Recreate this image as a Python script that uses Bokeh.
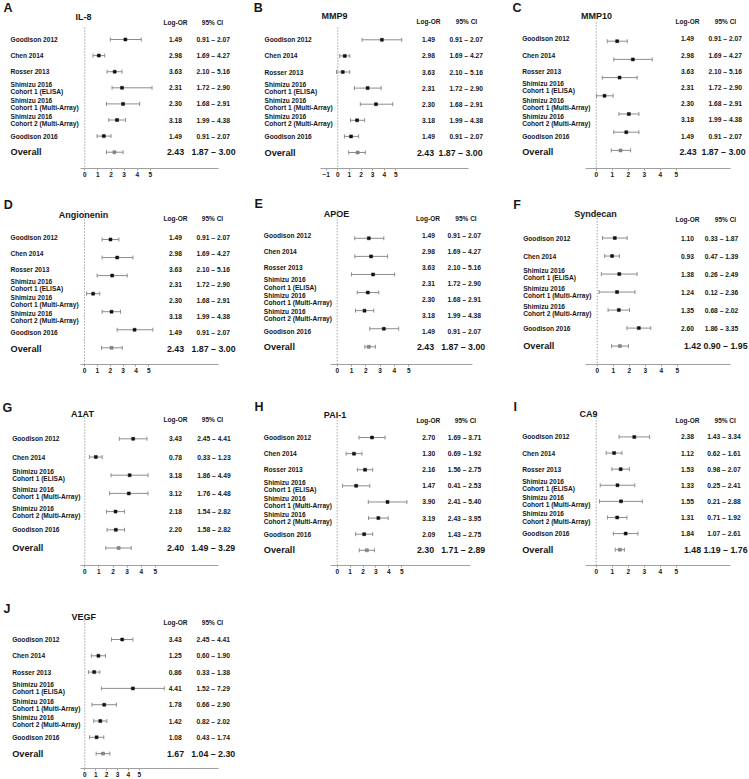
import math
from bokeh.plotting import figure
from bokeh.layouts import row, column
from bokeh.models import Range1d, LinearAxis, FixedTicker, ColumnDataSource
from bokeh.core.properties import value
from bokeh.embed import file_html
from bokeh.resources import INLINE

FONT = "Liberation Sans"
TXT = "#161616"
WHISK = "#8c8c8c"

# ---------------- data ----------------
STUDIES_7 = ["Goodison 2012", "Chen 2014", "Rosser 2013",
             "Shimizu 2016\nCohort 1 (ELISA)", "Shimizu 2016\nCohort 1 (Multi-Array)",
             "Shimizu 2016\nCohort 2 (Multi-Array)", "Goodison 2016"]
STUDIES_6 = ["Goodison 2012", "Chen 2014",
             "Shimizu 2016\nCohort 1 (ELISA)", "Shimizu 2016\nCohort 1 (Multi-Array)",
             "Shimizu 2016\nCohort 2 (Multi-Array)", "Goodison 2016"]

# table text shown in panels A-E
AE_LOGOR = ["1.49", "2.98", "3.63", "2.31", "2.30", "3.18", "1.49"]
AE_CI = ["0.91 – 2.07", "1.69 – 4.27", "2.10 – 5.16", "1.72 – 2.90",
         "1.68 – 2.91", "1.99 – 4.38", "0.91 – 2.07"]
AE_OV_LOGOR = "2.43"
AE_OV_CI = "1.87 – 3.00"

# plotted estimates (A-E read from markers)
IL8_EST = [3.10, 1.07, 2.28, 2.84, 2.92, 2.46, 1.45]
IL8_LO = [1.95, 0.63, 1.70, 2.08, 1.65, 1.83, 0.94]
IL8_HI = [4.31, 1.52, 2.84, 5.13, 4.19, 3.10, 2.00]
IL8_OV = [2.26, 1.65, 2.92]

MMP9_EST = [3.80, 0.60, 0.43, 2.57, 3.29, 1.66, 1.14]
MMP9_LO = [2.09, 0.17, -0.11, 1.43, 1.94, 1.09, 0.57]
MMP9_HI = [5.51, 1.03, 1.03, 3.74, 4.74, 2.31, 1.80]
MMP9_OV = [1.71, 0.94, 2.37]

MMP10_EST = [1.31, 2.29, 1.46, 0.52, 2.04, 1.88]
MMP10_LO = [0.69, 1.10, 0.38, 0.02, 1.42, 1.10]
MMP10_HI = [1.94, 3.50, 2.56, 1.06, 2.67, 2.67]
MMP10_OV = [1.52, 0.94, 2.15]

ANG_EST = [2.02, 2.54, 2.15, 0.67, 2.10, 3.89]
ANG_LO = [1.37, 1.37, 0.98, 0.16, 1.37, 2.54]
ANG_HI = [2.67, 3.76, 3.32, 1.19, 2.80, 5.31]
ANG_OV = [2.10, 1.32, 2.93]

APOE_EST = [2.21, 2.37, 2.51, 2.14, 1.91, 3.26]
APOE_LO = [1.23, 1.23, 1.00, 1.40, 1.28, 2.28]
APOE_HI = [3.26, 3.53, 4.02, 2.91, 2.56, 4.30]
APOE_OV = [2.21, 1.93, 2.67]

SYN_EST = [1.10, 0.93, 1.38, 1.24, 1.35, 2.60]
SYN_LO = [0.33, 0.47, 0.26, 0.12, 0.68, 1.86]
SYN_HI = [1.87, 1.39, 2.49, 2.36, 2.02, 3.35]
SYN_OV = [1.42, 0.90, 1.95]

A1AT_EST = [3.43, 0.78, 3.18, 3.12, 2.18, 2.20]
A1AT_LO = [2.45, 0.33, 1.86, 1.76, 1.54, 1.58]
A1AT_HI = [4.41, 1.23, 4.49, 4.48, 2.82, 2.82]
A1AT_OV = [2.40, 1.49, 3.29]

PAI_EST = [2.70, 1.30, 2.16, 1.47, 3.90, 3.19, 2.09]
PAI_LO = [1.69, 0.69, 1.56, 0.41, 2.41, 2.43, 1.43]
PAI_HI = [3.71, 1.92, 2.75, 2.53, 5.40, 3.95, 2.75]
PAI_OV = [2.30, 1.71, 2.89]

CA9_EST = [2.38, 1.12, 1.53, 1.33, 1.55, 1.31, 1.84]
CA9_LO = [1.43, 0.62, 0.98, 0.25, 0.21, 0.71, 1.07]
CA9_HI = [3.34, 1.61, 2.07, 2.41, 2.88, 1.92, 2.61]
CA9_OV = [1.48, 1.19, 1.76]

VEGF_EST = [3.43, 1.25, 0.86, 4.41, 1.78, 1.42, 1.08]
VEGF_LO = [2.45, 0.60, 0.33, 1.52, 0.66, 0.82, 0.43]
VEGF_HI = [4.41, 1.90, 1.38, 7.29, 2.90, 2.02, 1.74]
VEGF_OV = [1.67, 1.04, 2.30]

TICKS = [0, 1, 2, 3, 4, 5]
TICKS_B = [-1, 0, 1, 2, 3, 4, 5]

# ---------------- layout (pixels, panel-relative) ----------------
LAY = {
    "A": dict(W=250, H=195, letter=(3, 7.5), title=(83, 16), hdr_y=22, hdr_or=175, hdr_ci=212,
              x0=84.3, ppu=13.1, label_x=10, row_y0=39, row_sp=16.1, val_c=175, ci_l=196, ov_c=175, ov_ci_l=191,
              axis_y=168, ax_lo=80, ax_hi=218, dot_top=27),
    "B": dict(W=250, H=195, letter=(3.3, 7.5), title=(84, 15), hdr_y=21, hdr_or=178, hdr_ci=216,
              x0=87.3, ppu=11.6, label_x=14, row_y0=39.3, row_sp=16.1, val_c=178, ci_l=199, ov_c=175, ov_ci_l=188,
              axis_y=168, ax_lo=70, ax_hi=218, dot_top=27),
    "C": dict(W=249, H=195, letter=(12, 7.5), title=(96, 15), hdr_y=21, hdr_or=187, hdr_ci=225,
              x0=95.7, ppu=16, label_x=21.7, row_y0=38.3, row_sp=16.2, mark_y0=40.7, mark_sp=18.2,
              val_c=187, ci_l=208, ov_c=187.5, ov_ci_l=201, axis_y=168, ax_lo=85, ax_hi=230, dot_top=22),
    "D": dict(W=250, H=195, letter=(3.3, 9), title=(83, 19), hdr_y=23, hdr_or=175, hdr_ci=212,
              x0=84, ppu=12.87, label_x=10, row_y0=41.7, row_sp=15.9, mark_y0=44, mark_sp=18.05,
              val_c=175, ci_l=196, ov_c=175, ov_ci_l=191, axis_y=169, ax_lo=80, ax_hi=218, dot_top=15),
    "E": dict(W=250, H=195, letter=(4, 9), title=(86, 19), hdr_y=23, hdr_or=177.5, hdr_ci=215.5,
              x0=86.7, ppu=14.3, label_x=13.3, row_y0=40.7, row_sp=16.1, mark_y0=43.3, mark_sp=18.3,
              val_c=178, ci_l=197, ov_c=175, ov_ci_l=190.7, axis_y=171, ax_lo=80, ax_hi=221.7, dot_top=15),
    "F": dict(W=249, H=195, letter=(12.7, 10), title=(95, 19), hdr_y=24, hdr_or=187, hdr_ci=225,
              x0=96.7, ppu=16, label_x=22.7, row_y0=43.3, row_sp=18.33, val_c=187, ci_l=204.3, ov_c=192, ov_ci_l=203,
              axis_y=172, ax_lo=85, ax_hi=230, dot_top=17),
    "G": dict(W=250, H=195, letter=(2, 17), title=(82, 23.3), hdr_y=29.3, hdr_or=175, hdr_ci=212,
              x0=84.3, ppu=14.1, label_x=11.7, row_y0=48.3, row_sp=18.2, val_c=175, ci_l=196.7, ov_c=175, ov_ci_l=190.7,
              axis_y=175, ax_lo=80, ax_hi=218, dot_top=27),
    "H": dict(W=250, H=195, letter=(4, 17), title=(84.5, 25), hdr_y=30, hdr_or=177.8, hdr_ci=215,
              x0=86.7, ppu=12.9, label_x=13.3, row_y0=47.3, row_sp=16.2, val_c=178.3, ci_l=197.3, ov_c=175, ov_ci_l=190.7,
              axis_y=176, ax_lo=80, ax_hi=220, dot_top=27),
    "I": dict(W=249, H=195, letter=(13, 16.7), title=(88, 24), hdr_y=30, hdr_or=187, hdr_ci=224.7,
              x0=95.7, ppu=16, label_x=21.7, row_y0=46.7, row_sp=16.2, val_c=187, ci_l=206.7, ov_c=192, ov_ci_l=203,
              axis_y=176, ax_lo=85, ax_hi=230, dot_top=27),
    "J": dict(W=250, H=194, letter=(3, 23.7), title=(83.3, 31.7), hdr_y=36.7, hdr_or=175, hdr_ci=212,
              x0=84.3, ppu=10.9, label_x=11.7, row_y0=54, row_sp=16.3, val_c=174.7, ci_l=196, ov_c=175, ov_ci_l=190.7,
              axis_y=183, ax_lo=80, ax_hi=218, dot_top=32),
}


def fmt2(v):
    return f"{v:.2f}"


def add_text(p, x0, x_px, ys, texts, size, align="left", rng="default"):
    src = ColumnDataSource(dict(y=list(ys), t=list(texts)))
    p.text(x=0, y="y", text="t", source=src, x_offset=x_px - x0, text_align=align,
           text_baseline="middle", text_font=value(FONT), text_font_style="bold",
           text_font_size=value(f"{size}px"), text_color=TXT, text_line_height=1.02,
           y_range_name=rng)


def panel(letter, title, labels, est, lo, hi, ov, or_txt, ci_txt, ov_or, ov_ci, ticks):
    L = LAY[letter]
    W, H = L["W"], L["H"]
    x0 = L["x0"]
    ppu = L["ppu"]
    fh = int(round(L["axis_y"]))
    p = figure(width=W, height=H, output_backend="svg", toolbar_location=None,
               x_axis_type=None, y_axis_type=None,
               x_range=Range1d(-x0 / ppu, (W - x0) / ppu),
               y_range=Range1d(fh, 0),
               min_border_left=0, min_border_right=0, min_border_top=0,
               min_border_bottom=int(H - fh), outline_line_color=None,
               background_fill_color="white", border_fill_color="white")
    p.grid.visible = False

    ry0 = L["row_y0"]
    rsp = L["row_sp"]
    my0 = L.get("mark_y0", L["row_y0"])
    msp = L.get("mark_sp", rsp)
    p.extra_y_ranges = {
        "rows": Range1d((fh - ry0) / rsp, -ry0 / rsp),
        "marks": Range1d((fh - my0) / msp, -my0 / msp),
    }

    # decorations
    add_text(p, x0, L["letter"][0], [L["letter"][1]], [letter], 12.5)
    add_text(p, x0, L["title"][0], [L["title"][1]], [title], 9, align="center")
    add_text(p, x0, L["hdr_or"], [L["hdr_y"]], ["Log-OR"], 6.5, align="center")
    add_text(p, x0, L["hdr_ci"], [L["hdr_y"]], ["95% CI"], 6.5, align="center")

    # reference line at 0
    p.segment(x0=0, x1=0, y0=L["dot_top"], y1=fh, line_color="#7a7a7a",
              line_dash="1 2", line_width=1)

    n = len(labels)
    rows_i = list(range(n))
    add_text(p, x0, L["label_x"], rows_i, labels, 6.6, rng="rows")
    add_text(p, x0, L["label_x"], [n], ["Overall"], 9.2, rng="rows")
    add_text(p, x0, L["val_c"], rows_i, or_txt, 6.7, align="center", rng="rows")
    add_text(p, x0, L["ci_l"], rows_i, ci_txt, 6.7, rng="rows")
    add_text(p, x0, L["ov_c"], [n], [ov_or], 8.8, align="center", rng="rows")
    add_text(p, x0, L["ov_ci_l"], [n], [ov_ci], 8.8, rng="rows")

    # forest marks
    m = len(est)
    src = ColumnDataSource(dict(i=list(range(m)), est=est, lo=lo, hi=hi))
    p.segment(x0="lo", x1="hi", y0="i", y1="i", source=src, y_range_name="marks",
              line_color=WHISK, line_width=1)
    for col in ("lo", "hi"):
        p.scatter(x=col, y="i", source=src, y_range_name="marks", marker="dash",
                  angle=math.pi / 2, size=4, line_color=WHISK, line_width=1)
    p.scatter(x="est", y="i", source=src, y_range_name="marks", marker="square",
              size=3, fill_color="#111111", line_color="#111111", line_width=0.5)
    osrc = ColumnDataSource(dict(i=[m], est=[ov[0]], lo=[ov[1]], hi=[ov[2]]))
    p.segment(x0="lo", x1="hi", y0="i", y1="i", source=osrc, y_range_name="marks",
              line_color=WHISK, line_width=1)
    for col in ("lo", "hi"):
        p.scatter(x=col, y="i", source=osrc, y_range_name="marks", marker="dash",
                  angle=math.pi / 2, size=4, line_color=WHISK, line_width=1)
    p.scatter(x="est", y="i", source=osrc, y_range_name="marks", marker="square",
              size=3, fill_color="#8a8a8a", line_color="#6a6a6a", line_width=0.5)

    # x axis
    ax = LinearAxis(bounds=((L["ax_lo"] - x0) / ppu, (L["ax_hi"] - x0) / ppu),
                    ticker=FixedTicker(ticks=ticks, minor_ticks=[]))
    ax.axis_line_color = "#a0a0a0"
    ax.axis_line_width = 1
    ax.major_tick_line_color = "#a0a0a0"
    ax.major_tick_out = 2
    ax.major_tick_in = 0
    ax.minor_tick_out = 0
    ax.minor_tick_in = 0
    ax.major_label_standoff = 1
    ax.major_label_text_font = FONT
    ax.major_label_text_font_style = "bold"
    ax.major_label_text_font_size = "6.5px"
    ax.major_label_text_color = TXT
    p.add_layout(ax, "below")
    return p


def table_text(est, lo, hi):
    return [fmt2(v) for v in est], [f"{fmt2(a)} – {fmt2(b)}" for a, b in zip(lo, hi)]


def ov_text(ov):
    return fmt2(ov[0]), f"{fmt2(ov[1])} – {fmt2(ov[2])}"


pA = panel("A", "IL-8", STUDIES_7, IL8_EST, IL8_LO, IL8_HI, IL8_OV, AE_LOGOR, AE_CI, AE_OV_LOGOR, AE_OV_CI, TICKS)
pB = panel("B", "MMP9", STUDIES_7, MMP9_EST, MMP9_LO, MMP9_HI, MMP9_OV, AE_LOGOR, AE_CI, AE_OV_LOGOR, AE_OV_CI, TICKS_B)
pC = panel("C", "MMP10", STUDIES_7, MMP10_EST, MMP10_LO, MMP10_HI, MMP10_OV, AE_LOGOR, AE_CI, AE_OV_LOGOR, AE_OV_CI, TICKS)
pD = panel("D", "Angionenin", STUDIES_7, ANG_EST, ANG_LO, ANG_HI, ANG_OV, AE_LOGOR, AE_CI, AE_OV_LOGOR, AE_OV_CI, TICKS)
pE = panel("E", "APOE", STUDIES_7, APOE_EST, APOE_LO, APOE_HI, APOE_OV, AE_LOGOR, AE_CI, AE_OV_LOGOR, AE_OV_CI, TICKS)

t = table_text(SYN_EST, SYN_LO, SYN_HI); o = ov_text(SYN_OV)
pF = panel("F", "Syndecan", STUDIES_6, SYN_EST, SYN_LO, SYN_HI, SYN_OV, t[0], t[1], o[0], o[1], TICKS)
t = table_text(A1AT_EST, A1AT_LO, A1AT_HI); o = ov_text(A1AT_OV)
pG = panel("G", "A1AT", STUDIES_6, A1AT_EST, A1AT_LO, A1AT_HI, A1AT_OV, t[0], t[1], o[0], o[1], TICKS)
t = table_text(PAI_EST, PAI_LO, PAI_HI); o = ov_text(PAI_OV)
pH = panel("H", "PAI-1", STUDIES_7, PAI_EST, PAI_LO, PAI_HI, PAI_OV, t[0], t[1], o[0], o[1], TICKS)
t = table_text(CA9_EST, CA9_LO, CA9_HI); o = ov_text(CA9_OV)
pI = panel("I", "CA9", STUDIES_7, CA9_EST, CA9_LO, CA9_HI, CA9_OV, t[0], t[1], o[0], o[1], TICKS)
t = table_text(VEGF_EST, VEGF_LO, VEGF_HI); o = ov_text(VEGF_OV)
pJ = panel("J", "VEGF", STUDIES_7, VEGF_EST, VEGF_LO, VEGF_HI, VEGF_OV, t[0], t[1], o[0], o[1], TICKS)

layout = column(row(pA, pB, pC), row(pD, pE, pF), row(pG, pH, pI), row(pJ))

with open("out.html", "w") as f:
    f.write(file_html(layout, INLINE))
